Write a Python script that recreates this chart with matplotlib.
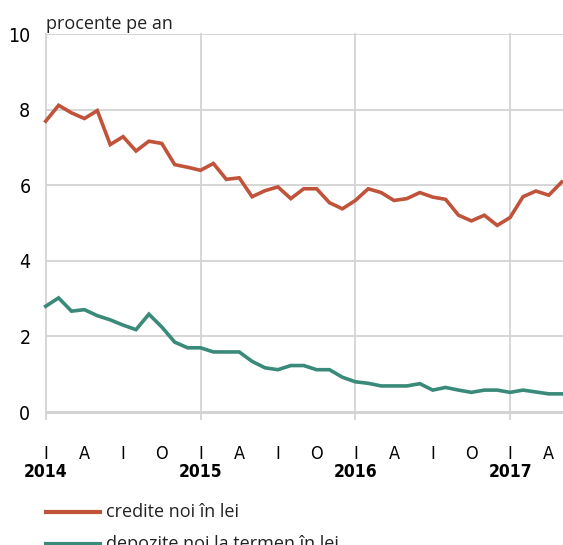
import matplotlib.pyplot as plt
from matplotlib.lines import Line2D
from matplotlib.transforms import blended_transform_factory
from matplotlib import font_manager
import numpy as np

# Data: monthly values, Jan 2014 - May 2017
credite = [7.70, 8.12, 7.92, 7.77, 7.98, 7.08, 7.29, 6.91, 7.17, 7.11, 6.55, 6.48,
           6.40, 6.58, 6.16, 6.20, 5.70, 5.86, 5.96, 5.65, 5.91, 5.91, 5.54, 5.38,
           5.60, 5.91, 5.81, 5.60, 5.65, 5.81, 5.69, 5.63, 5.21, 5.06, 5.21, 4.94,
           5.15, 5.70, 5.85, 5.74, 6.09]
depozite = [2.80, 3.02, 2.67, 2.71, 2.55, 2.44, 2.30, 2.18, 2.59, 2.25, 1.85, 1.70,
            1.70, 1.59, 1.59, 1.59, 1.34, 1.17, 1.12, 1.23, 1.23, 1.12, 1.12, 0.92,
            0.80, 0.76, 0.69, 0.69, 0.69, 0.75, 0.58, 0.65, 0.58, 0.52, 0.58, 0.58,
            0.52, 0.58, 0.53, 0.48, 0.48]
month_labels = ["I", "A", "I", "O"]
years = ["2014", "2015", "2016", "2017"]
legend_labels = ["credite noi în lei", "depozite noi la termen în lei"]

red = "#C0533A"
green = "#3A8A7A"
grid_col = "#D3D3D3"
body = ["Open Sans", "DejaVu Sans"]

# condensed face for the axis numbers, if one is around
names = {f.name for f in font_manager.fontManager.ttflist}
if "Liberation Sans Narrow" in names:
    narrow = dict(family="Liberation Sans Narrow")
else:
    narrow = dict(family="DejaVu Sans", fontstretch="condensed")

W, H = 563, 545
fig = plt.figure(figsize=(W / 100, H / 100), dpi=100)
ax = fig.add_axes([45.7 / W, 1 - 412 / H, (W - 45.7) / W, (412 - 34.3) / H])

x = np.arange(len(credite))
ax.plot(x, credite, color=red, lw=2.6, solid_joinstyle="miter", zorder=3, clip_on=False)
ax.plot(x, depozite, color=green, lw=2.6, solid_joinstyle="miter", zorder=3, clip_on=False)

ax.set_xlim(0, 40.1)
ax.set_ylim(0, 10)
ax.set_yticks([0, 2, 4, 6, 8, 10])
ax.set_yticklabels(["0", "2", "4", "6", "8", "10"], fontsize=14, **narrow)
ax.tick_params(axis="y", length=0, pad=11)

for v in [2, 4, 6, 8, 10]:
    ax.axhline(v, color=grid_col, lw=1.3, zorder=1)
ax.axhline(0, color=grid_col, lw=2.2, zorder=1, clip_on=False)
for m in [0, 12, 24, 36]:
    ax.plot([m, m], [-0.18, 10], color=grid_col, lw=1.3, zorder=1, clip_on=False)

for s in ax.spines.values():
    s.set_visible(False)

ax.set_xticks(np.arange(0, 41, 3))
ax.set_xticklabels([month_labels[i % 4] for i in range(14)], fontsize=13, **narrow)
ax.tick_params(axis="x", length=0, pad=24)

trans = blended_transform_factory(ax.transData, fig.transFigure)
for i, yr in enumerate(years):
    ax.text(12 * i, 1 - 471.8 / H, yr, transform=trans, ha="center", va="center",
            fontsize=12.5, fontweight="bold", **narrow)

fig.text(45.7 / W, 1 - 29 / H, "procente pe an", ha="left", va="baseline",
         family=body, fontsize=13, color="#222222")

for j, (lab, col) in enumerate(zip(legend_labels, [red, green])):
    yy = 1 - (512 + 32 * j) / H
    fig.add_artist(Line2D([46 / W, 100 / W], [yy, yy], color=col, lw=3))
    fig.text(106 / W, yy, lab, ha="left", va="center", family=body,
             fontsize=13, color="#222222")

fig.savefig("out.png", dpi=100)
